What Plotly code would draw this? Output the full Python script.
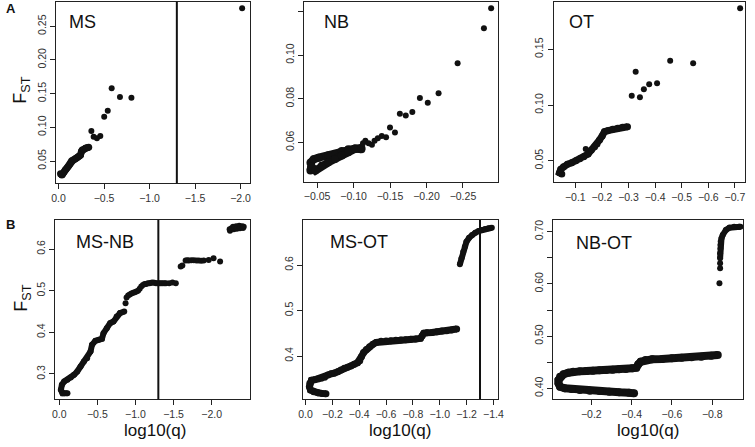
import plotly.graph_objects as go

# ---------------- data ----------------
# Panel A: MS
ms_band_x = [-0.037, -0.022, -0.043, -0.051, -0.062, -0.073, -0.085, -0.098, -0.11, -0.123, -0.135, -0.145,
             -0.163, -0.181, -0.2, -0.217, -0.23, -0.242, -0.252, -0.26, -0.28, -0.296, -0.315, -0.332]
ms_band_y = [0.0292, 0.031, 0.0305, 0.0317, 0.034, 0.0366, 0.0386, 0.0406, 0.043, 0.0455, 0.048, 0.0504,
             0.0515, 0.053, 0.0545, 0.0564, 0.0575, 0.0589, 0.064, 0.0663, 0.0675, 0.0689, 0.0695, 0.0703]
ms_pts_x = [-0.361, -0.386, -0.422, -0.459, -0.502, -0.541, -0.584, -0.675, -0.801, -2.017]
ms_pts_y = [0.0945, 0.086, 0.0837, 0.0871, 0.1157, 0.1246, 0.158, 0.145, 0.144, 0.2765]

# Panel A: NB
nb_up_x = [-0.0409, -0.0454, -0.0522, -0.0657, -0.0747, -0.0838, -0.0928, -0.1018, -0.1108]
nb_up_y = [0.0507, 0.0523, 0.053, 0.0541, 0.0546, 0.0561, 0.0569, 0.0572, 0.0569]
nb_lo_x = [-0.0409, -0.042, -0.0477, -0.0567, -0.0657, -0.0747, -0.0838, -0.0928, -0.1018, -0.1108]
nb_lo_y = [0.0471, 0.049, 0.0471, 0.0494, 0.0509, 0.0524, 0.054, 0.0555, 0.057, 0.0575]
nb_pts_x = [-0.113, -0.1162, -0.1207, -0.1252, -0.1288, -0.1333, -0.1387, -0.1446, -0.150, -0.1568,
            -0.1635, -0.1716, -0.1806, -0.191, -0.2018, -0.2166, -0.2427, -0.2788, -0.2887]
nb_pts_y = [0.0596, 0.0608, 0.0596, 0.0589, 0.0608, 0.0619, 0.063, 0.0624, 0.0668, 0.0645,
            0.0731, 0.0723, 0.074, 0.0804, 0.0782, 0.0825, 0.0963, 0.1123, 0.1215]

# Panel A: OT
ot_band_x = [-0.0493, -0.0407, -0.0456, -0.0556, -0.0704, -0.0863, -0.1022, -0.117, -0.1319, -0.1481, -0.1604,
             -0.1726, -0.1815, -0.1911, -0.2011, -0.2096, -0.2222, -0.2407, -0.2593, -0.2778, -0.2963]
ot_band_y = [0.0381, 0.0392, 0.0423, 0.0446, 0.0468, 0.0482, 0.05, 0.0518, 0.0536, 0.056, 0.0596,
             0.0626, 0.065, 0.0686, 0.0722, 0.076, 0.077, 0.0782, 0.0791, 0.08, 0.0805]
ot_pts_x = [-0.1393, -0.3122, -0.327, -0.343, -0.3578, -0.3778, -0.4074, -0.4567, -0.543, -0.7196]
ot_pts_y = [0.0605, 0.1084, 0.1299, 0.1069, 0.1141, 0.1186, 0.1195, 0.1398, 0.1374, 0.1868]

# Panel B: MS-NB
msnb_band_x = [-0.108, -0.065, -0.043, -0.022, -0.035, -0.065, -0.108, -0.151, -0.194, -0.236, -0.28, -0.323,
               -0.366, -0.41, -0.43, -0.474, -0.517, -0.56, -0.581, -0.624, -0.668, -0.711, -0.753, -0.797, -0.853]
msnb_band_y = [0.2538, 0.2538, 0.2538, 0.2618, 0.2738, 0.2817, 0.2858, 0.2914, 0.2978, 0.3058, 0.3178, 0.3298,
               0.3378, 0.3538, 0.370, 0.3796, 0.382, 0.3844, 0.398, 0.410, 0.422, 0.426, 0.438, 0.4462, 0.45]
msnb_pts_x = [-0.87, -0.883, -0.904, -0.925, -0.947, -0.97, -0.991, -1.012, -1.034, -1.055, -1.076, -1.098,
              -1.12, -1.141, -1.163, -1.185, -1.206, -1.227, -1.249, -1.27, -1.292, -1.314, -1.335, -1.357,
              -1.38, -1.4, -1.443, -1.486, -1.529, -1.593, -1.615, -1.658, -1.68, -1.70, -1.733, -1.766,
              -1.80, -1.83, -1.862, -1.895, -1.96, -2.024, -2.11,
              -2.235, -2.24, -2.25, -2.26, -2.28, -2.29, -2.30, -2.32, -2.33, -2.34, -2.36, -2.37, -2.38,
              -2.40, -2.41, -2.42]
msnb_pts_y = [0.470, 0.4837, 0.4885, 0.491, 0.4933, 0.495, 0.4966, 0.498, 0.4998, 0.505, 0.510, 0.514,
              0.516, 0.516, 0.518, 0.518, 0.519, 0.5198, 0.519, 0.518, 0.518, 0.518, 0.518, 0.518,
              0.518, 0.518, 0.518, 0.5198, 0.518, 0.558, 0.5606, 0.5727, 0.5735, 0.5727, 0.5735, 0.5735,
              0.5727, 0.5727, 0.572, 0.5727, 0.574, 0.578, 0.570,
              0.648, 0.644, 0.647, 0.650, 0.654, 0.648, 0.652, 0.655, 0.649, 0.652, 0.656, 0.650, 0.654,
              0.655, 0.651, 0.654]

# Panel B: MS-OT
msot_up_x = [-1.150, -1.162, -1.175, -1.187, -1.199, -1.219, -1.241, -1.265, -1.29, -1.314, -1.338, -1.363, -1.388]
msot_up_y = [0.6015, 0.6147, 0.629, 0.640, 0.651, 0.660, 0.666, 0.671, 0.6747, 0.677, 0.679, 0.6806, 0.682]
msot_lo_x = [-1.126, -1.089, -1.052, -1.016, -0.979, -0.942, -0.905, -0.881, -0.869, -0.857, -0.82, -0.783,
             -0.747, -0.71, -0.673, -0.636, -0.60, -0.563, -0.526, -0.502, -0.477, -0.453, -0.433, -0.416,
             -0.404, -0.387, -0.362, -0.338, -0.313, -0.289, -0.264, -0.24, -0.215, -0.191, -0.167, -0.142,
             -0.117, -0.093, -0.068, -0.044, -0.032, -0.029, -0.037, -0.061, -0.093, -0.123, -0.152]
msot_lo_y = [0.4593, 0.4571, 0.4556, 0.455, 0.4534, 0.452, 0.4512, 0.450, 0.4446, 0.4389, 0.4374, 0.4367,
             0.436, 0.4352, 0.4345, 0.4336, 0.433, 0.4323, 0.430, 0.4257, 0.4205, 0.4147, 0.4081, 0.3985,
             0.3897, 0.3853, 0.3818, 0.378, 0.3752, 0.373, 0.3692, 0.3655, 0.3626, 0.3611, 0.3582, 0.3532,
             0.351, 0.3495, 0.348, 0.3466, 0.340, 0.3325, 0.3253, 0.3216, 0.3194, 0.318, 0.3171]

# Panel B: NB-OT
nbot_up_x = [-0.839, -0.839, -0.8405, -0.8405, -0.842, -0.846, -0.852, -0.868, -0.885, -0.909, -0.933, -0.94]
nbot_up_y = [0.649, 0.6586, 0.668, 0.6745, 0.681, 0.6874, 0.6937, 0.7033, 0.7077, 0.7096, 0.7096, 0.7094]
nbot_pts_x = [-0.8357, -0.839, -0.839]
nbot_pts_y = [0.6011, 0.630, 0.6395]
nbot_lo_x = [-0.8274, -0.795, -0.746, -0.697, -0.648, -0.60, -0.551, -0.502, -0.469, -0.445, -0.433, -0.4235,
             -0.404, -0.371, -0.338, -0.306, -0.273, -0.241, -0.208, -0.176, -0.143, -0.11, -0.086, -0.062,
             -0.045, -0.037, -0.037, -0.045, -0.069, -0.102, -0.143, -0.192, -0.241, -0.289, -0.338, -0.387, -0.412]
nbot_lo_y = [0.4638, 0.4625, 0.4605, 0.4594, 0.4586, 0.4575, 0.4561, 0.4555, 0.4542, 0.451, 0.446, 0.4395,
             0.4383, 0.437, 0.4364, 0.4356, 0.435, 0.4344, 0.4337, 0.433, 0.4325, 0.4318, 0.43, 0.4268,
             0.4222, 0.4159, 0.4096, 0.403, 0.40, 0.3987, 0.3968, 0.3954, 0.3948, 0.3935, 0.3923, 0.3916, 0.3904]

threshold = -1.3  # log10(0.05)

# ---------------- figure ----------------
W, H = 755, 447
FONT = "Liberation Sans, Arial, Helvetica, sans-serif"
INK = "#111111"

def px(xp):
    return xp / W

def py(yp):
    return 1 - yp / H

fig = go.Figure()

def band(x, y, ax, width):
    fig.add_trace(go.Scatter(x=x, y=y, mode="lines+markers", xaxis=ax[0], yaxis=ax[1],
                             line=dict(color=INK, width=width),
                             marker=dict(color=INK, size=width), showlegend=False, hoverinfo="skip"))

def points(x, y, ax, size=6):
    fig.add_trace(go.Scatter(x=x, y=y, mode="markers", xaxis=ax[0], yaxis=ax[1],
                             marker=dict(color=INK, size=size), showlegend=False, hoverinfo="skip"))

A1 = ("x", "y"); A2 = ("x2", "y2"); A3 = ("x3", "y3")
B1 = ("x4", "y4"); B2 = ("x5", "y5"); B3 = ("x6", "y6")

band(ms_band_x, ms_band_y, A1, 7)
points(ms_pts_x, ms_pts_y, A1)
band(nb_up_x, nb_up_y, A2, 8)
band(nb_lo_x, nb_lo_y, A2, 8)
points(nb_pts_x, nb_pts_y, A2)
band(ot_band_x, ot_band_y, A3, 7)
points(ot_pts_x, ot_pts_y, A3)
band(msnb_band_x, msnb_band_y, B1, 6)
points(msnb_pts_x, msnb_pts_y, B1)
band(msot_up_x, msot_up_y, B2, 6)
band(msot_lo_x, msot_lo_y, B2, 7)
band(nbot_up_x, nbot_up_y, B3, 6)
points(nbot_pts_x, nbot_pts_y, B3)
band(nbot_lo_x, nbot_lo_y, B3, 8)

def fmt(v, d):
    s = f"{abs(v):.{d}f}"
    return ("\u2212" + s) if v < 0 else s

AXLINE = dict(showline=True, mirror=True, linecolor="#222", linewidth=1,
              ticks="outside", ticklen=5, tickcolor="#222",
              tickfont=dict(family=FONT, size=10.5, color="#333"),
              showgrid=False, zeroline=False)

def xax(dom, rng, ticks, d, anchor):
    return dict(domain=[px(dom[0]), px(dom[1])], range=rng, anchor=anchor,
                tickvals=ticks, ticktext=[fmt(t, d) for t in ticks], **AXLINE)

def yax(dom, rng, ticks, d, anchor, minor_ticks=None):
    ax = dict(domain=[py(dom[1]), py(dom[0])], range=rng, anchor=anchor,
              tickvals=ticks, ticktext=[f"{v:.{d}f}" for v in ticks], tickangle=-90, **AXLINE)
    if minor_ticks:
        ax["minor"] = dict(tickvals=minor_ticks, ticks="outside", ticklen=5, tickcolor="#222",
                           showgrid=False)
    return ax

ytA1 = [0.05, 0.10, 0.15, 0.20, 0.25]
ytA2 = [0.06, 0.08, 0.10, 0.12]
ytA3 = [0.05, 0.10, 0.15]
ytB1 = [0.3, 0.4, 0.5, 0.6]
ytB2 = [0.4, 0.5, 0.6]
ytB3 = [0.40, 0.50, 0.60, 0.70]
ytB3_minor = [0.45, 0.55, 0.65]

fig.update_layout(
    width=W, height=H, margin=dict(l=0, r=0, t=0, b=0), autosize=False,
    paper_bgcolor="white", plot_bgcolor="white",
    xaxis=xax((51.7, 248.3), [0.028, -2.10], [0, -0.5, -1.0, -1.5, -2.0], 1, "y"),
    yaxis=yax((1.7, 183.3), [0.0169, 0.2864], ytA1, 2, "x"),
    xaxis2=xax((303.3, 500), [-0.0319, -0.2977], [-0.05, -0.10, -0.15, -0.20, -0.25], 2, "y2"),
    yaxis2=yax((1.7, 181.7), [0.042, 0.1245], ytA2, 2, "x2"),
    xaxis3=xax((556.7, 750.7), [-0.0185, -0.737], [-0.1, -0.2, -0.3, -0.4, -0.5, -0.6, -0.7], 1, "y3"),
    yaxis3=yax((1.7, 182), [0.0309, 0.1927], ytA3, 2, "x3"),
    xaxis4=xax((51, 248.3), [0.052, -2.498], [0, -0.5, -1.0, -1.5, -2.0], 1, "y4"),
    yaxis4=yax((220, 399.3), [0.239, 0.670], ytB1, 1, "x4"),
    xaxis5=xax((302.3, 500), [0.0198, -1.432], [0, -0.2, -0.4, -0.6, -0.8, -1.0, -1.2, -1.4], 1, "y5"),
    yaxis5=yax((220, 399.3), [0.305, 0.699], ytB2, 1, "x5"),
    xaxis6=xax((556, 749.3), [-0.0093, -0.9545], [-0.2, -0.4, -0.6, -0.8], 1, "y6"),
    yaxis6=yax((220, 399.3), [0.379, 0.7224], ytB3, 2, "x6", minor_ticks=ytB3_minor),
)

shapes = []
for xr, yr in (("x", "y"), ("x4", "y4"), ("x5", "y5")):
    shapes.append(dict(type="line", xref=xr, yref=f"{yr} domain", x0=threshold, x1=threshold,
                       y0=0, y1=1, line=dict(color=INK, width=2)))
fig.update_layout(shapes=shapes)

ann = []
def text(xp, yp, t, size, bold=False, angle=0):
    ann.append(dict(x=px(xp), y=py(yp), xref="paper", yref="paper", text=(f"<b>{t}</b>" if bold else t),
                    showarrow=False, xanchor="center", yanchor="middle", textangle=angle,
                    font=dict(family=FONT, size=size, color=INK)))

text(6, 9, "A", 13, bold=True)
text(6, 224, "B", 13, bold=True)
text(79, 22, "MS", 18)
text(336, 22, "NB", 18)
text(585, 22, "OT", 18)
text(101.7, 242, "MS-NB", 18)
text(359, 242, "MS-OT", 18)
text(608, 243, "NB-OT", 18)
text(17, 90, "F<sub>ST</sub>", 18, angle=-90)
text(17, 298, "F<sub>ST</sub>", 18, angle=-90)
text(152, 430, "log10(q)", 17)
text(401, 430, "log10(q)", 17)
text(653, 430, "log10(q)", 17)
fig.update_layout(annotations=ann)

fig.write_html("out.html", config={"displayModeBar": False},
               post_script="document.body.style.margin='0';document.body.style.padding='0';"
                           "document.body.style.overflow='hidden';")
